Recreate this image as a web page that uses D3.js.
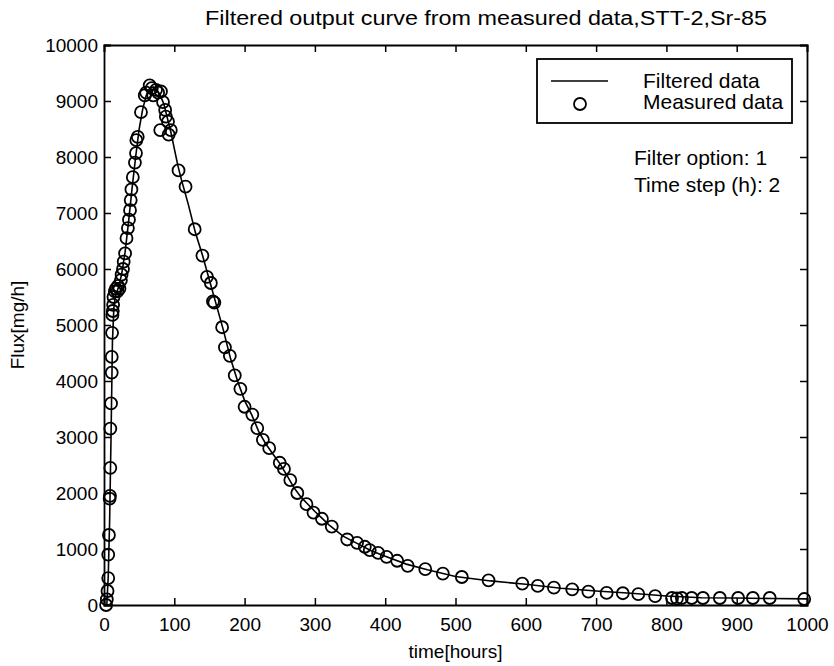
<!DOCTYPE html>
<html>
<head>
<meta charset="utf-8">
<script src="https://cdn.jsdelivr.net/npm/d3@7"></script>
<style>
  html, body { margin: 0; padding: 0; background: #fff; }
  svg { display: block; }
  text { font-family: "Liberation Sans", Arial, Helvetica, sans-serif; fill: #000; }
</style>
</head>
<body>
<svg id="chart" width="834" height="666"></svg>
<script>
// ---- Data ----
const measuredTime = [3, 4, 5, 6, 6, 7, 8, 8.5, 9, 9, 10, 11, 11, 11.5, 12, 12.5, 13, 13.5, 15.5, 17, 19, 20, 22, 24, 25, 27, 28, 30, 32, 34, 35.5, 37, 38, 39, 41, 44, 45.5, 46, 48, 52.6, 58, 60, 65, 68, 70, 74, 77, 81, 80, 84, 87, 88, 91, 95, 92, 106, 116, 129, 140, 146.5, 152, 155, 157, 168, 172, 179, 186, 194, 200, 211, 218, 226, 235, 250, 256, 265, 275, 288, 298, 310, 324, 346, 360, 371, 378, 390, 402, 417, 432, 457, 482, 509, 547, 595, 617, 640, 666, 689, 715, 738, 760, 784, 808, 815, 822, 836, 852, 876, 902, 923, 947, 996];
const measuredFlux = [0, 100, 250, 480, 900, 1250, 1900, 1950, 2450, 3150, 3600, 4150, 4430, 4860, 5180, 5250, 5360, 5500, 5600, 5650, 5600, 5700, 5650, 5800, 5900, 6000, 6130, 6280, 6550, 6730, 6880, 7050, 7230, 7420, 7640, 7900, 8070, 8300, 8360, 8800, 9100, 9150, 9280, 9230, 9100, 9200, 9150, 9170, 8480, 8980, 8840, 8720, 8630, 8480, 8400, 7760, 7470, 6710, 6240, 5860, 5750, 5420, 5400, 4960, 4600, 4450, 4100, 3860, 3540, 3400, 3160, 2950, 2800, 2540, 2430, 2230, 2000, 1800, 1650, 1540, 1400, 1170, 1110, 1040, 980, 930, 860, 790, 700, 640, 560, 500, 440, 380, 340, 310, 280, 240, 215, 210, 195, 160, 125, 120, 125, 125, 125, 125, 125, 125, 125, 107];

const filteredTime = [0, 2, 4, 6, 8, 10, 12, 14, 16, 20, 25, 30, 35, 40, 45, 50, 55, 60, 65, 70, 75, 80, 85, 90, 95, 100, 105, 110, 120, 130, 140, 150, 160, 170, 180, 190, 200, 210, 220, 230, 240, 250, 260, 270, 280, 290, 300, 310, 320, 340, 360, 380, 400, 430, 460, 500, 550, 600, 650, 700, 750, 800, 850, 900, 950, 1000];
const filteredFlux = [0, 0, 0, 500, 1500, 3000, 4700, 5300, 5500, 5650, 5900, 6300, 6850, 7450, 8000, 8500, 8850, 9100, 9230, 9250, 9200, 9100, 8950, 8700, 8450, 8150, 7850, 7600, 7150, 6650, 6250, 5800, 5350, 4900, 4400, 4000, 3650, 3400, 3100, 2880, 2700, 2530, 2320, 2100, 1930, 1800, 1670, 1550, 1430, 1230, 1100, 970, 870, 730, 630, 510, 430, 370, 300, 250, 210, 160, 130, 125, 115, 110];

const xTicks = [0, 100, 200, 300, 400, 500, 600, 700, 800, 900, 1000];
const yTicks = [0, 1000, 2000, 3000, 4000, 5000, 6000, 7000, 8000, 9000, 10000];

const titleText = "Filtered output curve from measured data,STT-2,Sr-85";
const xLabel = "time[hours]";
const yLabel = "Flux[mg/h]";
const legendLabels = ["Filtered data", "Measured data"];
const noteLines = ["Filter option: 1", "Time step (h): 2"];

// ---- Layout ----
const svg = d3.select("#chart");
const mLeft = 104, mRight = 807, mTop = 45, mBottom = 605;
const x = d3.scaleLinear().domain([0, 1000]).range([mLeft, mRight]);
const y = d3.scaleLinear().domain([0, 10000]).range([mBottom, mTop]);
const tickLen = 7;
const fs = 19;
const fsBig = 21;

// Title
svg.append("text").attr("x", 486).attr("y", 25)
  .attr("text-anchor", "middle").attr("font-size", 20)
  .attr("textLength", 562).attr("lengthAdjust", "spacingAndGlyphs").text(titleText);

// Axes (ticks inward on all four sides)
const axB = svg.append("g").attr("transform", `translate(0,${mBottom})`)
  .call(d3.axisBottom(x).tickValues(xTicks).tickSize(-tickLen).tickPadding(13).tickFormat(d3.format("d")));
const axT = svg.append("g").attr("transform", `translate(0,${mTop})`)
  .call(d3.axisTop(x).tickValues(xTicks).tickSize(-tickLen).tickFormat(""));
const axL = svg.append("g").attr("transform", `translate(${mLeft},0)`)
  .call(d3.axisLeft(y).tickValues(yTicks).tickSize(-tickLen).tickPadding(6).tickFormat(d3.format("d")));
const axR = svg.append("g").attr("transform", `translate(${mRight},0)`)
  .call(d3.axisRight(y).tickValues(yTicks).tickSize(-tickLen).tickFormat(""));

[axB, axT, axL, axR].forEach(g => {
  g.select(".domain").attr("stroke", "#000").attr("stroke-width", 1.8);
  g.selectAll(".tick line").attr("stroke", "#000").attr("stroke-width", 1.5);
  g.selectAll(".tick text").attr("font-size", fs).attr("fill", "#000")
    .style("font-family", "'Liberation Sans', Arial, sans-serif");
});

// Axis labels
svg.append("text").attr("x", (mLeft + mRight) / 2).attr("y", 658)
  .attr("text-anchor", "middle").attr("font-size", fs).text(xLabel);
svg.append("text").attr("transform", `translate(24,${(mTop + mBottom) / 2}) rotate(-90)`)
  .attr("text-anchor", "middle").attr("font-size", fs).text(yLabel);

// Filtered line
const line = d3.line().x((d, i) => x(filteredTime[i])).y((d, i) => y(filteredFlux[i]));
svg.append("path").datum(filteredFlux).attr("d", line)
  .attr("fill", "none").attr("stroke", "#000").attr("stroke-width", 1.6);

// Measured circles
svg.append("g").selectAll("circle").data(measuredFlux).join("circle")
  .attr("cx", (d, i) => x(measuredTime[i])).attr("cy", d => y(d))
  .attr("r", 6).attr("fill", "none").attr("stroke", "#000").attr("stroke-width", 1.8);

// Legend
const lg = svg.append("g");
lg.append("rect").attr("x", 537).attr("y", 59).attr("width", 255).attr("height", 64)
  .attr("fill", "#fff").attr("stroke", "#000").attr("stroke-width", 1.8);
lg.append("line").attr("x1", 551).attr("x2", 608).attr("y1", 81).attr("y2", 81)
  .attr("stroke", "#000").attr("stroke-width", 1.6);
lg.append("circle").attr("cx", 580).attr("cy", 104).attr("r", 6)
  .attr("fill", "none").attr("stroke", "#000").attr("stroke-width", 1.8);
lg.append("text").attr("x", 643).attr("y", 88).attr("font-size", fsBig).text(legendLabels[0]);
lg.append("text").attr("x", 643).attr("y", 109).attr("font-size", fsBig).text(legendLabels[1]);

// Notes
svg.append("text").attr("x", 634).attr("y", 165).attr("font-size", fsBig).text(noteLines[0]);
svg.append("text").attr("x", 634).attr("y", 192).attr("font-size", fsBig).text(noteLines[1]);
</script>
</body>
</html>
